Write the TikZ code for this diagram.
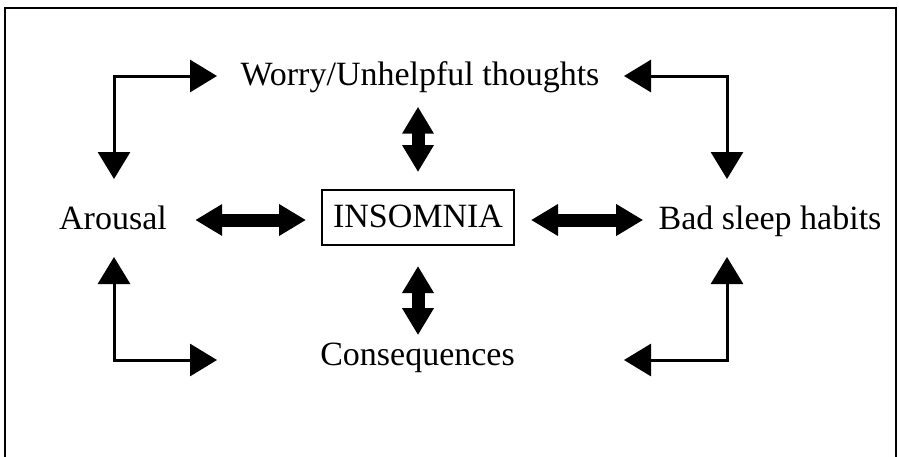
\documentclass[tikz,border=0pt]{standalone}
\usepackage{fontspec}
\setmainfont{Liberation Serif}
\usetikzlibrary{arrows.meta,calc}
\begin{document}
\begin{tikzpicture}[x=0.5pt,y=-0.5pt,
  lbl/.style={inner sep=0pt,anchor=base,font=\fontsize{17}{20}\selectfont},
  boxed/.style={draw,line width=1pt,anchor=base,inner xsep=5.5pt,inner ysep=0pt,
    text height=18.5pt,text depth=9pt,font=\fontsize{17}{20}\selectfont},
  thinarr/.style={line width=1.5pt,
    {Triangle[width=16pt,length=13.5pt]}-{Triangle[width=16pt,length=13.5pt]}},
  thickarr/.style={line width=6.5pt,
    {Triangle[width=15pt,length=13.5pt]}-{Triangle[width=15pt,length=13.5pt]}}]
\clip (0,0) rectangle (899,456);
\draw[line width=1.1pt] (5,8) rectangle (896,490);

\node[lbl] (worry) at (420,85) {Worry/Unhelpful thoughts};
\node[lbl] (arousal) at (113,229) {Arousal};
\node[boxed] (ins) at (418,227) {INSOMNIA};
\node[lbl] (bad) at (770,229) {Bad sleep habits};
\node[lbl] (cons) at (417.5,365) {Consequences};

% thin elbow arrows
\coordinate (tlA) at (217,76);  \coordinate (tlB) at (114,179);
\coordinate (trA) at (624,76);  \coordinate (trB) at (727,179);
\coordinate (blA) at (114,257); \coordinate (blB) at (217,360);
\coordinate (brA) at (727,257); \coordinate (brB) at (624,360);
\draw[thinarr] (tlA) -| (tlB);
\draw[thinarr] (trA) -| (trB);
\draw[thinarr] (blA) |- (blB);
\draw[thinarr] (brA) |- (brB);

% thick double arrows
\draw[thickarr] ($(arousal.east |- ins.west)+(28,2.5)$) -- ($(ins.west)+(-15,2.5)$);
\draw[thickarr] ($(ins.east)+(16,2.5)$) -- ($(bad.west |- ins.east)+(-15,2.5)$);
\draw[thickarr] ($(ins.north |- worry.south)+(0,14)$) -- ($(ins.north)+(0,-17)$);
\draw[thickarr] ($(ins.south)+(0,20)$) -- ($(ins.south |- cons.north)+(0,-7)$);
\end{tikzpicture}
\end{document}
